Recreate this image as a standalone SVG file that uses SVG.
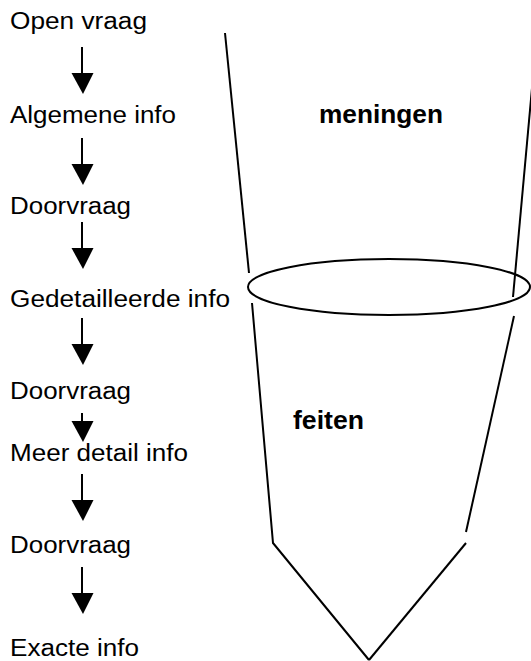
<svg xmlns="http://www.w3.org/2000/svg" width="531" height="661" viewBox="0 0 531 661">
  <style>
    .step { font-family: "Liberation Sans", Arial, sans-serif; font-size: 23px; fill: #000; }
    .zone { font-family: "Liberation Sans", Arial, sans-serif; font-size: 26px; font-weight: bold; fill: #000; }
    .shaft { stroke: #000; stroke-width: 2; fill: none; }
    .head { fill: #000; stroke: none; }
    .funnel { stroke: #000; stroke-width: 2; fill: none; stroke-linecap: butt; }
  </style>
  <defs>
    <g id="down-arrow">
      <line class="shaft" x1="0" y1="0" x2="0" y2="28"/>
      <polygon class="head" points="-10.5,26 11.5,26 1,47"/>
    </g>
    <g id="down-arrow-short">
      <line class="shaft" x1="0" y1="0" x2="0" y2="10"/>
      <polygon class="head" points="-10.5,8 11.5,8 1,29"/>
    </g>
  </defs>
  <rect width="531" height="661" fill="#fff"/>

  <!-- question / answer steps -->
  <g id="step-open-vraag"><text class="step" x="10" y="29" textLength="137" lengthAdjust="spacingAndGlyphs">Open vraag</text></g>
  <g id="step-algemene-info"><text class="step" x="10" y="123" textLength="166" lengthAdjust="spacingAndGlyphs">Algemene info</text></g>
  <g id="step-doorvraag-1"><text class="step" x="10" y="214" textLength="121" lengthAdjust="spacingAndGlyphs">Doorvraag</text></g>
  <g id="step-gedetailleerde-info"><text class="step" x="10" y="307" textLength="220" lengthAdjust="spacingAndGlyphs">Gedetailleerde info</text></g>
  <g id="step-doorvraag-2"><text class="step" x="10" y="399" textLength="121" lengthAdjust="spacingAndGlyphs">Doorvraag</text></g>
  <g id="step-meer-detail-info"><text class="step" x="10" y="461" textLength="178" lengthAdjust="spacingAndGlyphs">Meer detail info</text></g>
  <g id="step-doorvraag-3"><text class="step" x="10" y="553" textLength="121" lengthAdjust="spacingAndGlyphs">Doorvraag</text></g>
  <g id="step-exacte-info"><text class="step" x="10" y="656" textLength="129" lengthAdjust="spacingAndGlyphs">Exacte info</text></g>

  <!-- arrows between steps -->
  <g id="connectors">
    <use href="#down-arrow" x="82" y="47"/>
    <use href="#down-arrow" x="82" y="138"/>
    <use href="#down-arrow" x="82" y="222"/>
    <use href="#down-arrow" x="82" y="318"/>
    <use href="#down-arrow-short" x="82" y="413"/>
    <use href="#down-arrow" x="82" y="474"/>
    <use href="#down-arrow" x="82" y="567"/>
  </g>

  <!-- funnel -->
  <g id="funnel">
    <line class="funnel" x1="225" y1="33" x2="249" y2="273"/>
    <polyline class="funnel" points="252,303 273,543 369,660"/>
    <line class="funnel" x1="532" y1="88" x2="513" y2="297"/>
    <line class="funnel" x1="514" y1="316" x2="466" y2="532"/>
    <line class="funnel" x1="466" y1="543" x2="369" y2="660"/>
    <ellipse class="funnel" cx="389" cy="287" rx="141" ry="28"/>
  </g>

  <g id="zone-meningen"><text class="zone" x="319" y="123" textLength="124" lengthAdjust="spacingAndGlyphs">meningen</text></g>
  <g id="zone-feiten"><text class="zone" x="293" y="429" textLength="71" lengthAdjust="spacingAndGlyphs">feiten</text></g>
</svg>
